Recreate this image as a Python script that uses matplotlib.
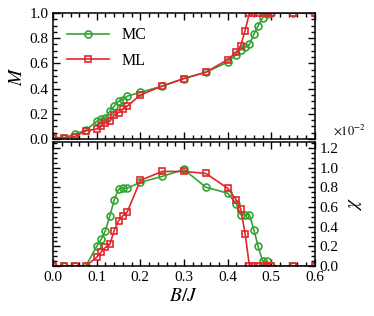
import matplotlib
matplotlib.use('Agg')
import matplotlib.pyplot as plt
from matplotlib.ticker import MultipleLocator, AutoMinorLocator

plt.rcParams['font.family'] = ['Liberation Serif', 'DejaVu Serif']
plt.rcParams['mathtext.fontset'] = 'stix'
plt.rcParams['font.size'] = 11

# magnetization M(B/J)
B_mc = [0.0, 0.025, 0.05, 0.075, 0.1, 0.11, 0.12, 0.13, 0.14, 0.15, 0.16, 0.17,
        0.2, 0.25, 0.3, 0.35, 0.4, 0.42, 0.43, 0.44, 0.45, 0.46, 0.47, 0.48, 0.49,
        0.5, 0.55, 0.6]
M_mc = [0.01, 0.01, 0.04, 0.07, 0.14, 0.16, 0.17, 0.22, 0.26, 0.30, 0.31, 0.34,
        0.37, 0.42, 0.48, 0.53, 0.61, 0.67, 0.71, 0.73, 0.75, 0.83, 0.90, 0.96, 0.99,
        1.0, 1.0, 1.0]
chi_mc = [0.0, 0.0, 0.0, 0.0, 0.20, 0.27, 0.36, 0.51, 0.67, 0.78, 0.79, 0.79,
          0.85, 0.91, 0.98, 0.80, 0.74, 0.63, 0.52, 0.52, 0.52, 0.37, 0.20, 0.05, 0.05,
          0.0, 0.0, 0.0]

B_ml = [0.0, 0.025, 0.05, 0.075, 0.1, 0.11, 0.12, 0.13, 0.14, 0.15, 0.16, 0.17,
        0.2, 0.25, 0.3, 0.35, 0.4, 0.42, 0.43, 0.44, 0.45, 0.46, 0.47, 0.48, 0.49,
        0.5, 0.55, 0.6]
M_ml = [0.01, 0.01, 0.02, 0.065, 0.08, 0.10, 0.13, 0.14, 0.19, 0.21, 0.24, 0.26,
        0.35, 0.42, 0.48, 0.53, 0.63, 0.69, 0.74, 0.86, 1.0, 1.0, 1.0, 1.0, 1.0,
        1.0, 1.0, 1.0]
chi_ml = [0.0, 0.0, 0.0, 0.0, 0.09, 0.14, 0.19, 0.22, 0.36, 0.46, 0.51, 0.55,
          0.87, 0.96, 0.96, 0.94, 0.79, 0.67, 0.58, 0.33, 0.0, 0.0, 0.0, 0.0, 0.0,
          0.0, 0.0, 0.0]

green = '#33a333'
red = '#e0282d'
mk = dict(markersize=5, markerfacecolor='none', markeredgewidth=1.2, linewidth=1.2)

fig = plt.figure(figsize=(3.74, 3.16), dpi=100)
ax1 = fig.add_axes([0.142, 0.560, 0.700, 0.399])
ax2 = fig.add_axes([0.142, 0.158, 0.700, 0.393])

ax1.plot(B_mc, M_mc, 'o-', color=green, label='MC', **mk)
ax1.plot(B_ml, M_ml, 's-', color=red, label='ML', **mk)
ax2.plot(B_mc, chi_mc, 'o-', color=green, **mk)
ax2.plot(B_ml, chi_ml, 's-', color=red, **mk)

for ax in (ax1, ax2):
    ax.set_xlim(0, 0.6)
    ax.xaxis.set_major_locator(MultipleLocator(0.1))
    ax.xaxis.set_minor_locator(AutoMinorLocator(5))
    ax.yaxis.set_minor_locator(AutoMinorLocator(4))
    ax.tick_params(which='both', direction='in', top=True, right=True, width=1)
    ax.tick_params(which='major', length=5)
    ax.tick_params(which='minor', length=3)
    for s in ax.spines.values():
        s.set_linewidth(1.1)

ax1.set_ylim(0, 1.0)
ax1.yaxis.set_major_locator(MultipleLocator(0.2))
ax1.tick_params(labelbottom=False)
ax1.set_ylabel('$M$', fontsize=14, labelpad=2)
ax1.legend(loc='upper left', frameon=False, fontsize=11.5, handlelength=2.6,
           borderaxespad=0.5, labelspacing=0.6, handletextpad=0.8)

ax2.set_ylim(0, 1.26)
ax2.yaxis.set_major_locator(MultipleLocator(0.2))
ax2.tick_params(labelleft=False, labelright=True)
ax2.yaxis.set_label_position('right')
ax2.set_ylabel('$\\chi$', fontsize=14, rotation=90, labelpad=6)
ax2.set_xlabel('$B/J$', fontsize=14, labelpad=3)
ax2.text(1.07, 1.03, '$\\times10^{-2}$', transform=ax2.transAxes, fontsize=9,
         ha='left', va='bottom')

fig.savefig('out.png', dpi=100)
